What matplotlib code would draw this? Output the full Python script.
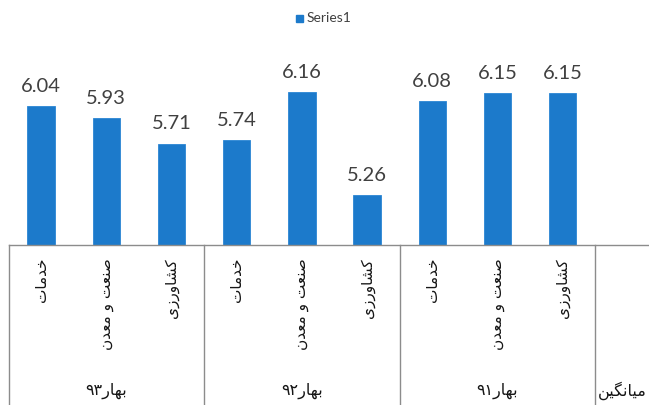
import matplotlib
matplotlib.use("Agg")
import matplotlib.pyplot as plt
from matplotlib.transforms import blended_transform_factory
from matplotlib.patches import Rectangle

# ---- data ----
sectors = ["خدمات", "صنعت و معدن", "کشاورزی"]
seasons = ["بهار۹۳", "بهار۹۲", "بهار۹۱"]
average_label = "میانگین"
values = [6.04, 5.93, 5.71, 5.74, 6.16, 5.26, 6.08, 6.15, 6.15]
series_name = "Series1"

# ---- minimal Arabic-script shaping (matplotlib has no bidi/shaping) ----
# char: (isolated, final, initial, medial); right-joining letters have only 2 forms
FORMS = {
    "ا": ("\uFE8D", "\uFE8E"),
    "د": ("\uFEA9", "\uFEAA"),
    "ر": ("\uFEAD", "\uFEAE"),
    "ز": ("\uFEAF", "\uFEB0"),
    "و": ("\uFEED", "\uFEEE"),
    "ب": ("\uFE8F", "\uFE90", "\uFE91", "\uFE92"),
    "ت": ("\uFE95", "\uFE96", "\uFE97", "\uFE98"),
    "خ": ("\uFEA5", "\uFEA6", "\uFEA7", "\uFEA8"),
    "ش": ("\uFEB5", "\uFEB6", "\uFEB7", "\uFEB8"),
    "ص": ("\uFEB9", "\uFEBA", "\uFEBB", "\uFEBC"),
    "ع": ("\uFEC9", "\uFECA", "\uFECB", "\uFECC"),
    "م": ("\uFEE1", "\uFEE2", "\uFEE3", "\uFEE4"),
    "ن": ("\uFEE5", "\uFEE6", "\uFEE7", "\uFEE8"),
    "ه": ("\uFEE9", "\uFEEA", "\uFEEB", "\uFEEC"),
    "ک": ("\uFB8E", "\uFB8F", "\uFB90", "\uFB91"),
    "گ": ("\uFB92", "\uFB93", "\uFB94", "\uFB95"),
    "ی": ("\uFBFC", "\uFBFD", "\uFBFE", "\uFBFF"),
}


def shape(text):
    out = []
    n = len(text)
    for i, ch in enumerate(text):
        if ch not in FORMS:
            out.append(ch)
            continue
        prev = text[i - 1] if i > 0 else ""
        nxt = text[i + 1] if i + 1 < n else ""
        joins_prev = prev in FORMS and len(FORMS[prev]) == 4
        can_join_next = len(FORMS[ch]) == 4 and nxt in FORMS
        f = FORMS[ch]
        if joins_prev and can_join_next:
            out.append(f[3])
        elif joins_prev:
            out.append(f[1])
        elif can_join_next:
            out.append(f[2])
        else:
            out.append(f[0])
    # visual order: reverse, but keep digit runs left-to-right
    rev = out[::-1]
    result, run = [], []
    for c in rev:
        if c.isdigit():
            run.append(c)
        else:
            if run:
                result.extend(run[::-1])
                run = []
            result.append(c)
    if run:
        result.extend(run[::-1])
    return "".join(result)


# ---- figure ----
W, H = 649, 405
fig = plt.figure(figsize=(W / 100, H / 100), dpi=100)
fig.patch.set_facecolor("white")

n_cat = len(values) + 1  # nine bars plus the average slot
cat_px = 65.2
left_px = 8.5
base_px = 245  # baseline from top
ymin, ymax = 4.82, 6.5
px_per_unit = 114
ax_h = (ymax - ymin) * px_per_unit
ax = fig.add_axes([left_px / W, (H - base_px) / H, n_cat * cat_px / W, ax_h / H])
ax.set_xlim(-0.5, n_cat - 0.5)
ax.set_ylim(ymin, ymax)
ax.axis("off")

bar_color = "#1c7acb"
xs = list(range(len(values)))
bars = ax.bar(xs, [v - ymin for v in values], bottom=ymin, width=0.42,
              color=bar_color, edgecolor="#2a86d4", linewidth=0.6)
for x, v in zip(xs, values):
    ax.annotate(f"{v:.2f}", (x, v), xytext=(0, 8), textcoords="offset points",
                ha="center", va="bottom", fontsize=14.5, color="#404040",
                family="Lato")

line_c = "#8c8c8c"
trans = blended_transform_factory(ax.transData, ax.transAxes)
# category axis line
ax.plot([-0.5, n_cat - 0.5], [0, 0], transform=trans, color=line_c, lw=1.0,
        clip_on=False)
# group separators reaching to the bottom edge
depth = -(H - base_px) / ax_h - 0.05
for gx in [-0.5, 2.5, 5.5, 8.5]:
    ax.plot([gx, gx], [0, depth], transform=trans, color=line_c, lw=1.0,
            clip_on=False)

lab_y = -13 / ax_h
grp_y = -(391 - base_px) / ax_h
arabic_font = ["DejaVu Sans"]
txt_c = "#161616"
for gi, season in enumerate(seasons):
    for si, sector in enumerate(sectors):
        x = gi * 3 + si
        ax.text(x, lab_y, shape(sector), transform=trans, rotation=90,
                ha="center", va="top", fontsize=11, color=txt_c,
                family=arabic_font)
    ax.text(gi * 3 + 1, grp_y, shape(season), transform=trans,
            ha="center", va="center", fontsize=11.5, color=txt_c,
            family=arabic_font)
ax.text(n_cat - 1.46, grp_y, shape(average_label), transform=trans,
        ha="left", va="center", fontsize=11.5, color=txt_c,
        family=arabic_font)

# legend
fig.patches.append(Rectangle((296 / W, 1 - 22 / H), 7 / W, 7 / H,
                             transform=fig.transFigure, color=bar_color))
fig.text(307 / W, 1 - 18.5 / H, series_name, ha="left", va="center",
         fontsize=10, color="#404040", family="Lato")

fig.savefig("out.png", dpi=100, facecolor="white")
